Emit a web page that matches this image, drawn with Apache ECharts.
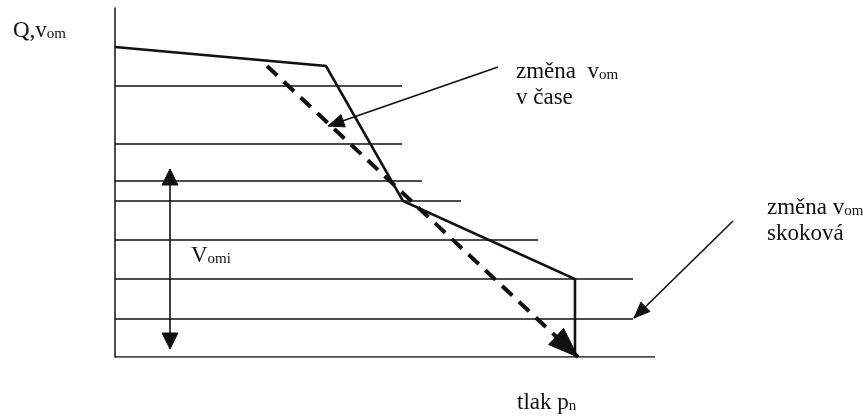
<!DOCTYPE html>
<html>
<head>
<meta charset="utf-8">
<script src="https://cdn.jsdelivr.net/npm/echarts@6/dist/echarts.min.js"></script>
<style>
html,body{margin:0;padding:0;background:#fff;}
#c{width:863px;height:416px;}
</style>
</head>
<body>
<div id="c"></div>
<script>
// Diagram data (p = pressure axis units, Q = flow axis units)
const levelQ   = [271, 213, 176, 156, 117, 78, 38, 0];
const levelEnd = [287, 287, 307, 346, 423, 518, 518, 540];
const curveP = [0, 211, 288, 460, 460];
const curveQ = [310, 291, 156, 78, 0];
const trendStart = [152, 291];
const trendEnd   = [463, 0];
const timeNoteStart = [383, 290];
const timeNoteEnd   = [213, 231];
const stepNoteStart = [618, 136];
const stepNoteEnd   = [519, 39];
const rangeP = 55;
const rangeQ = [188, 8];
const rangeMid = 98;

const ink = '#111';
const font = '"Liberation Serif", "Times New Roman", serif';

const levelLines = levelQ.map((q, i) => ({ coords: [[0, q], [levelEnd[i], q]] }));
const curve = curveP.map((p, i) => [p, curveQ[i]]);

function richText(txt, x, yTop) {
  return {
    type: 'text', x: x, y: yTop,
    style: {
      text: txt,
      fill: ink,
      font: '23px ' + font,
      rich: {
        m: { fontSize: 23, fontFamily: font, lineHeight: 26, verticalAlign: 'bottom', fill: ink, color: ink },
        s: { fontSize: 15, fontFamily: font, lineHeight: 14, verticalAlign: 'bottom', fill: ink, color: ink }
      }
    }
  };
}

// arrowhead drawn at the data end point, pointing along the segment
function headSeries(segments, len, wid) {
  return {
    type: 'custom', coordinateSystem: 'cartesian2d', silent: true, clip: false,
    encode: { x: [0, 2], y: [1, 3] },
    data: segments.map(s => [s[0][0], s[0][1], s[1][0], s[1][1]]),
    renderItem: function (params, api) {
      const a = api.coord([api.value(0), api.value(1)]);
      const b = api.coord([api.value(2), api.value(3)]);
      let dx = b[0] - a[0], dy = b[1] - a[1];
      const n = Math.sqrt(dx * dx + dy * dy) || 1;
      dx /= n; dy /= n;
      const bx = b[0] - dx * len, by = b[1] - dy * len;
      const px = -dy * wid / 2, py = dx * wid / 2;
      return {
        type: 'polygon',
        shape: { points: [[b[0], b[1]], [bx + px, by + py], [bx - px, by - py]] },
        style: { fill: ink, stroke: ink, lineWidth: 1 }
      };
    }
  };
}

const chart = echarts.init(document.getElementById('c'), null, { renderer: 'canvas' });
chart.setOption({
  backgroundColor: '#fff',
  animation: false,
  grid: { left: 115, right: 0, top: 8, bottom: 59 },
  xAxis: { type: 'value', min: 0, max: 748, show: false },
  yAxis: {
    type: 'value', min: 0, max: 349,
    axisLine: { show: true, onZero: false, lineStyle: { color: ink, width: 1.5 } },
    axisTick: { show: false }, axisLabel: { show: false }, splitLine: { show: false }
  },
  series: [
    {
      type: 'lines', coordinateSystem: 'cartesian2d', silent: true,
      lineStyle: { color: ink, width: 1.6, opacity: 1 },
      symbol: 'none',
      data: levelLines
    },
    {
      type: 'lines', coordinateSystem: 'cartesian2d', polyline: true, silent: true,
      lineStyle: { color: ink, width: 2.6, opacity: 1 },
      symbol: 'none',
      data: [{ coords: curve }]
    },
    {
      type: 'lines', coordinateSystem: 'cartesian2d', silent: true,
      lineStyle: { color: ink, width: 4, type: [14, 9], opacity: 1 },
      symbol: 'none',
      data: [{ coords: [trendStart, trendEnd] }]
    },
    {
      type: 'lines', coordinateSystem: 'cartesian2d', silent: true,
      lineStyle: { color: ink, width: 1.6, opacity: 1 },
      symbol: 'none',
      data: [
        { coords: [timeNoteStart, timeNoteEnd] },
        { coords: [stepNoteStart, stepNoteEnd] },
        { coords: [[rangeP, rangeQ[0]], [rangeP, rangeQ[1]]] }
      ]
    },
    headSeries([[trendStart, trendEnd]], 30, 22),
    headSeries([[timeNoteStart, timeNoteEnd], [stepNoteStart, stepNoteEnd]], 16, 13),
    headSeries([[[rangeP, rangeMid], [rangeP, rangeQ[0]]], [[rangeP, rangeMid], [rangeP, rangeQ[1]]]], 16, 16)
  ],
  graphic: [
    richText('{m|Q,v}{s|om}', 13, 16),
    richText('{m|změna  v}{s|om}\n{m|v čase}', 516, 57),
    richText('{m|změna v}{s|om}\n{m|skoková}', 767, 193),
    richText('{m|V}{s|omi}', 191, 241),
    richText('{m|tlak p}{s|n}', 517, 388)
  ]
});
</script>
</body>
</html>
